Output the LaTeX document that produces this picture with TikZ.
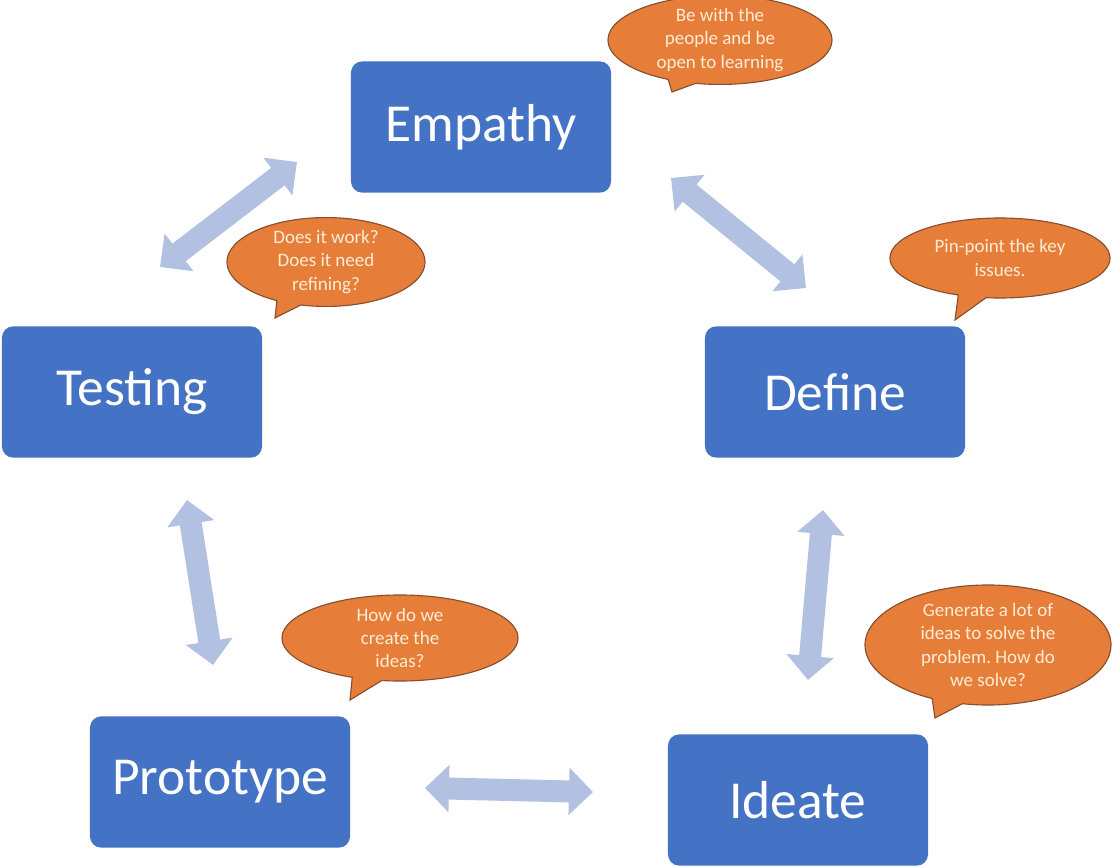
\documentclass[tikz,border=0pt]{standalone}
\usepackage{fontspec}
\setmainfont{Carlito}
\usetikzlibrary{arrows.meta,shapes.callouts,positioning}
\definecolor{stageblue}{RGB}{68,114,196}
\definecolor{linkblue}{RGB}{178,192,226}
\definecolor{noteorange}{RGB}{230,126,57}
\definecolor{noteedge}{RGB}{135,78,48}
\definecolor{notetext}{RGB}{253,236,214}
\tikzset{stage/.style={rectangle,rounded corners=8pt,fill=stageblue,text=white,minimum width=6.5cm,minimum height=3.28cm,inner sep=0mm,font=\fontsize{38}{44}\selectfont}}
\tikzset{note/.style={ellipse callout,fill=noteorange,draw=noteedge,line width=0.8pt,text=notetext,align=center,inner sep=0mm,font=\fontsize{13.5}{16.5}\selectfont}}
\tikzset{link/.style={draw=linkblue,line width=0.55cm,{Triangle[width=1.15cm,length=0.6cm]}-{Triangle[width=1.15cm,length=0.6cm]}}}

\begin{document}
\begin{tikzpicture}[x=0.025cm,y=-0.025cm]
    \useasboundingbox (0,0) rectangle (1118,867);

    \node[stage] (empathy)   at (481,127) {Empathy};
    \node[stage] (define)    at (835,392) {Define};
    \node[stage] (ideate)    at (798,800) {Ideate};
    \node[stage] (prototype) at (220,782) {Prototype};
    \node[stage] (testing)   at (132,392) {Testing};

    \coordinate (te1) at (160,267);
    \coordinate (te2) at (297,162);
    \coordinate (ed1) at (671,178);
    \coordinate (ed2) at (806,288);
    \coordinate (di1) at (823,510);
    \coordinate (di2) at (808,680);
    \coordinate (ip1) at (593,792);
    \coordinate (ip2) at (425,788);
    \coordinate (pt1) at (213,665);
    \coordinate (pt2) at (187,500);

    \draw[link] (te1) -- (te2);
    \draw[link] (ed1) -- (ed2);
    \draw[link] (di1) -- (di2);
    \draw[link] (ip1) -- (ip2);
    \draw[link] (pt1) -- (pt2);

    \coordinate (empathytip)   at (672,92);
    \coordinate (testingtip)   at (275,318);
    \coordinate (definetip)    at (955,320);
    \coordinate (ideatetip)    at (935,718);
    \coordinate (prototypetip) at (350,700);

    \node[note,minimum width=5.6cm,minimum height=2.1cm,callout absolute pointer={(empathytip)}] (empathynote) at (720,40) {Be with the\\people and be\\open to learning};
    \node[note,minimum width=4.95cm,minimum height=1.9cm,callout absolute pointer={(testingtip)}] (testingnote) at (326,262) {Does it work?\\Does it need\\refining?};
    \node[note,minimum width=5.5cm,minimum height=2cm,callout absolute pointer={(definetip)}] (definenote) at (1000,258) {Pin-point the key\\issues.};
    \node[note,minimum width=6.15cm,minimum height=3cm,callout absolute pointer={(ideatetip)}] (ideatenote) at (988,645) {Generate a lot of\\ideas to solve the\\problem.\ How do\\we solve?};
    \node[note,minimum width=5.9cm,minimum height=2.15cm,callout absolute pointer={(prototypetip)}] (prototypenote) at (400,638) {How do we\\create the\\ideas?};
\end{tikzpicture}
\end{document}
